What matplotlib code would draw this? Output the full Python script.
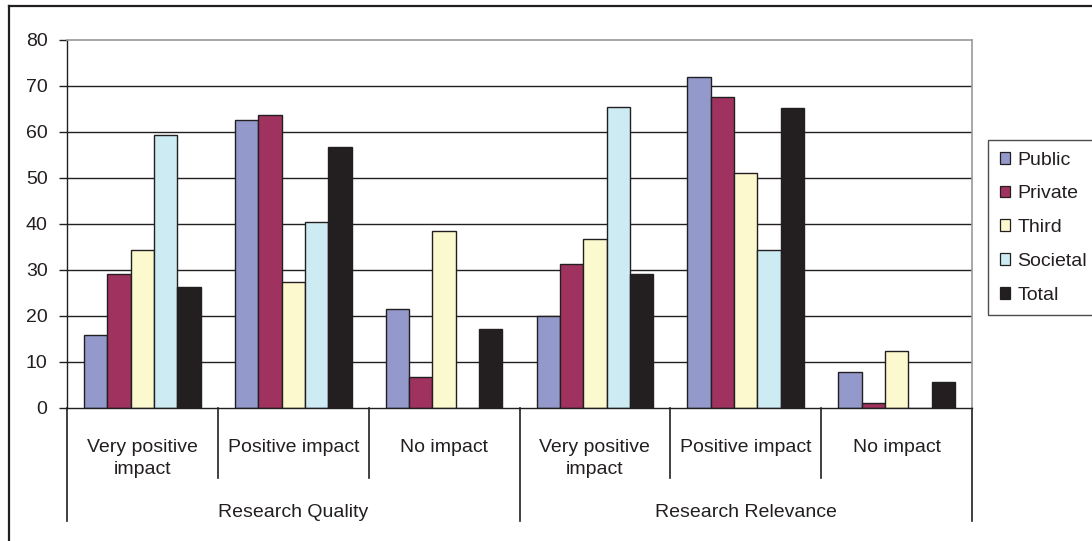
import matplotlib
matplotlib.use("Agg")
import matplotlib.pyplot as plt
import numpy as np
from matplotlib.patches import Patch
from matplotlib.lines import Line2D
from matplotlib.transforms import blended_transform_factory

# ---- data -------------------------------------------------------------
impact_labels = ["Very positive\nimpact", "Positive impact", "No impact",
                 "Very positive\nimpact", "Positive impact", "No impact"]
dimension_labels = ["Research Quality", "Research Relevance"]
series_names = ["Public", "Private", "Third", "Societal", "Total"]

public = [15.8, 62.5, 21.6, 19.9, 72.0, 7.9]
private = [29.1, 63.8, 6.8, 31.2, 67.6, 1.0]
third = [34.3, 27.4, 38.4, 36.7, 51.1, 12.3]
societal = [59.4, 40.5, 0.0, 65.5, 34.4, 0.0]
total = [26.4, 56.7, 17.2, 29.2, 65.2, 5.6]

y_ticks = [0, 10, 20, 30, 40, 50, 60, 70, 80]

# ---- styling ----------------------------------------------------------
colors = ["#9399CB", "#A0325F", "#FCF9CF", "#CDEBF2", "#231F20"]
ink = "#231F20"
frame_grey = "#9A9A9A"
plt.rcParams["font.family"] = ["Liberation Sans", "DejaVu Sans"]
FS = 14

W, H = 1092, 541
fig = plt.figure(figsize=(W / 100, H / 100), dpi=100)
fig.patch.set_facecolor("white")

# plot area in pixel terms
left, right, top, bottom = 67, 972, 40, 408
ax = fig.add_axes([left / W, 1 - bottom / H, (right - left) / W, (bottom - top) / H])

values = [public, private, third, societal, total]
n_groups = len(impact_labels)
x = np.arange(n_groups)
bw = 0.1545
for i, (vals, col, name) in enumerate(zip(values, colors, series_names)):
    ax.bar(x + (i - 2) * bw, vals, width=bw, color=col, edgecolor=ink,
           linewidth=1.0, label=name, zorder=2)

ax.set_xlim(-0.5, n_groups - 0.5)
ax.set_ylim(y_ticks[0], y_ticks[-1])
ax.set_yticks(y_ticks)
ax.hlines(y_ticks[1:-1], -0.5, n_groups - 0.5, colors=ink, linewidth=1.0, zorder=0.5)

ax.tick_params(axis="y", length=6, width=1, color=ink, pad=8, labelsize=FS,
               labelcolor=ink)
ax.tick_params(axis="x", length=0, labelbottom=False)

for s in ("left", "bottom"):
    ax.spines[s].set_color(ink)
    ax.spines[s].set_linewidth(1.0)
for s in ("top", "right"):
    ax.spines[s].set_color(frame_grey)
    ax.spines[s].set_linewidth(1.2)

# ---- two-level category axis -----------------------------------------
tr = blended_transform_factory(ax.transData, fig.transFigure)

def fy(py):
    return 1 - py / H

# level-1 labels
for xi, lab in zip(x, impact_labels):
    for k, line in enumerate(lab.split("\n")):
        ax.text(xi, fy(452 + 22 * k), line, transform=tr, ha="center",
                va="baseline", fontsize=FS, color=ink)

# level-2 labels
group_size = n_groups // len(dimension_labels)
for j, lab in enumerate(dimension_labels):
    xc = j * group_size + (group_size - 1) / 2
    ax.text(xc, fy(517), lab, transform=tr, ha="center", va="baseline",
            fontsize=FS, color=ink)

# separators below the axis
for b in np.arange(-0.5, n_groups, 1.0):
    major = (b + 0.5) % group_size == 0
    y_end = 521 if major else 478
    ax.add_line(Line2D([b, b], [fy(bottom), fy(y_end)], transform=tr,
                       color=ink, linewidth=1.2, clip_on=False))

# ---- legend -------------------------------------------------------------
handles = [Patch(facecolor=c, edgecolor=ink, linewidth=0.9) for c in colors]
leg = fig.legend(handles, series_names, loc="upper left",
                 bbox_to_anchor=(988 / W, 1 - 140 / H), borderaxespad=0,
                 fontsize=FS, frameon=True, fancybox=False, shadow=False,
                 handlelength=0.55, handleheight=0.55, handletextpad=0.35,
                 labelspacing=0.86, borderpad=0.6)
leg.get_frame().set_edgecolor(ink)
leg.get_frame().set_linewidth(1.0)
for t in leg.get_texts():
    t.set_color(ink)

# ---- outer chart frame (top and left edges) -----------------------------
fig.add_artist(Line2D([9 / W, 1], [fy(6), fy(6)], transform=fig.transFigure,
                      color=ink, linewidth=1.6))
fig.add_artist(Line2D([9 / W, 9 / W], [fy(6), 0], transform=fig.transFigure,
                      color=ink, linewidth=1.6))

fig.savefig("out.png", dpi=100, facecolor="white")
